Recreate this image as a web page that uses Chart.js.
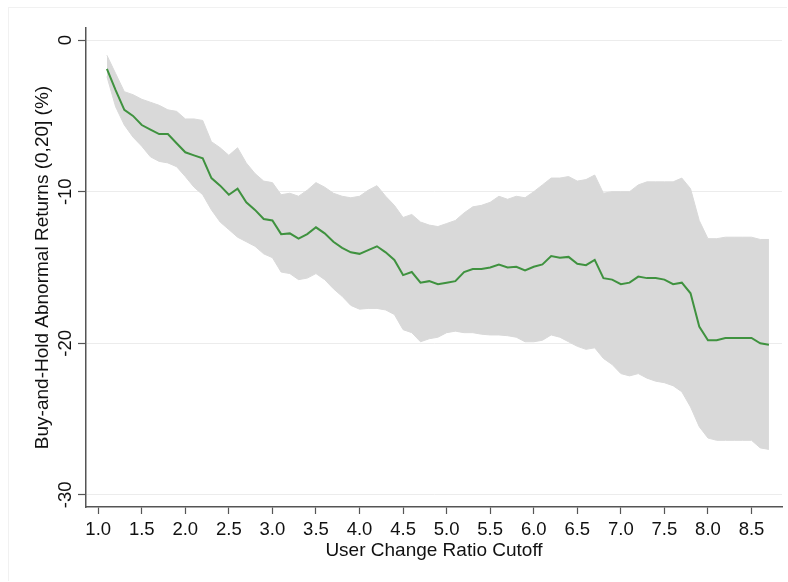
<!DOCTYPE html>
<html>
<head>
<meta charset="utf-8">
<script src="https://cdn.jsdelivr.net/npm/chart.js@4/dist/chart.umd.min.js"></script>
<style>
  html, body { margin: 0; padding: 0; background: #fff; }
  #wrap { position: relative; width: 788px; height: 582px; }
  #frame { position: absolute; left: 8px; top: 7px; width: 779px; height: 574px; border: 1px solid #f1f1f1; border-right: none; border-bottom: none; box-sizing: border-box; }
  canvas { position: absolute; left: 0; top: 0; }
</style>
</head>
<body>
<div id="wrap">
  <div id="frame"></div>
  <canvas id="chart" width="788" height="582"></canvas>
</div>
<script>
// user change ratio cutoff (x)
const cutoffs = [
  1.1, 1.2, 1.3, 1.4, 1.5, 1.6, 1.7, 1.8, 1.9, 2.0,
  2.1, 2.2, 2.3, 2.4, 2.5, 2.6, 2.7, 2.8, 2.9, 3.0,
  3.1, 3.2, 3.3, 3.4, 3.5, 3.6, 3.7, 3.8, 3.9, 4.0,
  4.1, 4.2, 4.3, 4.4, 4.5, 4.6, 4.7, 4.8, 4.9, 5.0,
  5.1, 5.2, 5.3, 5.4, 5.5, 5.6, 5.7, 5.8, 5.9, 6.0,
  6.1, 6.2, 6.3, 6.4, 6.5, 6.6, 6.7, 6.8, 6.9, 7.0,
  7.1, 7.2, 7.3, 7.4, 7.5, 7.6, 7.7, 7.8, 7.9, 8.0,
  8.1, 8.2, 8.3, 8.4, 8.5, 8.6, 8.7
]

// BHAR (0,20] point estimate, %
const bhar = [
  -1.9, -3.3, -4.6, -5.0, -5.6, -5.9, -6.2, -6.2, -6.8, -7.4,
  -7.6, -7.8, -9.1, -9.6, -10.2, -9.8, -10.7, -11.2, -11.8, -11.9,
  -12.8, -12.75, -13.1, -12.8, -12.35, -12.75, -13.3, -13.7, -14.0, -14.1,
  -13.85, -13.6, -14.0, -14.5, -15.5, -15.3, -16.0, -15.9, -16.1, -16.0,
  -15.9, -15.3, -15.1, -15.1, -15.0, -14.8, -15.0, -14.95, -15.2, -14.95,
  -14.8, -14.25, -14.35, -14.3, -14.75, -14.85, -14.5, -15.7, -15.8, -16.1,
  -16.0, -15.6, -15.7, -15.7, -15.8, -16.1, -16.0, -16.7, -18.9, -19.8,
  -19.8, -19.65, -19.65, -19.65, -19.65, -20.0, -20.1
]

// confidence band, upper and lower
const ciUpper = [
  -1.0, -2.2, -3.4, -3.6, -3.9, -4.1, -4.3, -4.6, -4.7, -5.2,
  -5.2, -5.3, -6.7, -7.1, -7.6, -7.1, -8.1, -8.8, -9.3, -9.4,
  -10.2, -10.1, -10.3, -9.9, -9.4, -9.7, -10.1, -10.3, -10.4, -10.3,
  -9.9, -9.6, -10.3, -10.9, -11.7, -11.5, -12.0, -12.2, -12.3, -12.1,
  -11.9, -11.4, -11.0, -10.9, -10.7, -10.3, -10.5, -10.3, -10.4, -10.0,
  -9.55, -9.1, -9.1, -9.0, -9.3, -9.2, -8.9, -10.1, -10.0, -10.0,
  -10.0, -9.55, -9.35, -9.35, -9.35, -9.35, -9.1, -9.8, -11.9, -13.1,
  -13.1, -13.0, -13.0, -13.0, -13.0, -13.15, -13.15
]
const ciLower = [
  -2.4, -4.4, -5.6, -6.4, -7.0, -7.7, -8.0, -8.1, -8.35, -9.0,
  -9.7, -10.2, -11.2, -12.0, -12.5, -13.0, -13.3, -13.6, -14.1, -14.35,
  -15.3, -15.4, -15.8, -15.7, -15.4, -15.8, -16.4, -16.9, -17.5, -17.75,
  -17.7, -17.7, -17.8, -18.1, -19.1, -19.3, -19.9, -19.7, -19.6, -19.3,
  -19.2, -19.3, -19.3, -19.4, -19.45, -19.45, -19.5, -19.6, -19.9, -19.9,
  -19.8, -19.45, -19.6, -19.9, -20.2, -20.4, -20.3, -21.0, -21.4, -22.0,
  -22.15, -22.0, -22.3, -22.5, -22.6, -22.8, -23.2, -24.2, -25.5, -26.25,
  -26.4, -26.4, -26.4, -26.4, -26.4, -26.9, -27.0
]

const xTicks = [1.0, 1.5, 2.0, 2.5, 3.0, 3.5, 4.0, 4.5, 5.0, 5.5, 6.0, 6.5, 7.0, 7.5, 8.0, 8.5]
const yTicks = [-30, -20, -10, 0]

const pts = arr => cutoffs.map((c, i) => ({ x: c, y: arr[i] }))

const FONT = 'Liberation Sans, Arial, Helvetica, sans-serif'
const AXIS = '#555'
const BAND = '#d9d9d9'

new Chart(document.getElementById('chart'), {
  type: 'line',
  data: {
    datasets: [
      { label: 'upper', data: pts(ciUpper), fill: '+1', backgroundColor: BAND, borderColor: BAND, borderWidth: 1, pointRadius: 0, tension: 0, order: 2 },
      { label: 'lower', data: pts(ciLower), fill: false, borderColor: BAND, borderWidth: 1, pointRadius: 0, tension: 0, order: 3 },
      { label: 'BHAR', data: pts(bhar), fill: false, borderColor: '#3f923f', borderWidth: 2, pointRadius: 0, tension: 0, order: 1 }
    ]
  },
  options: {
    responsive: false,
    animation: false,
    events: [],
    layout: { padding: { left: 31, top: 28, right: 6, bottom: 20 } },
    plugins: { legend: { display: false }, tooltip: { enabled: false } },
    scales: {
      x: {
        type: 'linear',
        min: 0.86,
        max: 8.85,
        afterBuildTicks: s => { s.ticks = xTicks.map(v => ({ value: v })) },
        afterFit: s => { s.height = 55 },
        ticks: { color: '#111', font: { family: FONT, size: 18.5 }, padding: 4.5, callback: v => Number(v).toFixed(1), maxRotation: 0, autoSkip: false },
        grid: { drawOnChartArea: false, drawTicks: true, tickLength: 7, tickColor: AXIS, tickWidth: 1.2 },
        border: { display: true, color: AXIS, width: 1.5 },
        title: { display: true, text: 'User Change Ratio Cutoff', color: '#111', font: { family: FONT, size: 19 }, padding: 0 }
      },
      y: {
        type: 'linear',
        min: -30.8,
        max: 0.8,
        afterBuildTicks: s => { s.ticks = yTicks.map(v => ({ value: v })) },
        afterFit: s => { s.width = 55 },
        ticks: { color: '#111', font: { family: FONT, size: 18.5 }, padding: -1, minRotation: 90, maxRotation: 90, crossAlign: 'center', autoSkip: false },
        grid: { drawOnChartArea: true, color: '#ececec', lineWidth: 1, drawTicks: true, tickLength: 8, tickColor: AXIS, tickWidth: 1.2 },
        border: { display: true, color: AXIS, width: 1.5 },
        title: { display: true, text: 'Buy-and-Hold Abnormal Returns (0,20] (%)', color: '#111', font: { family: FONT, size: 19 }, padding: 0 }
      }
    }
  }
})
</script>
</body>
</html>
